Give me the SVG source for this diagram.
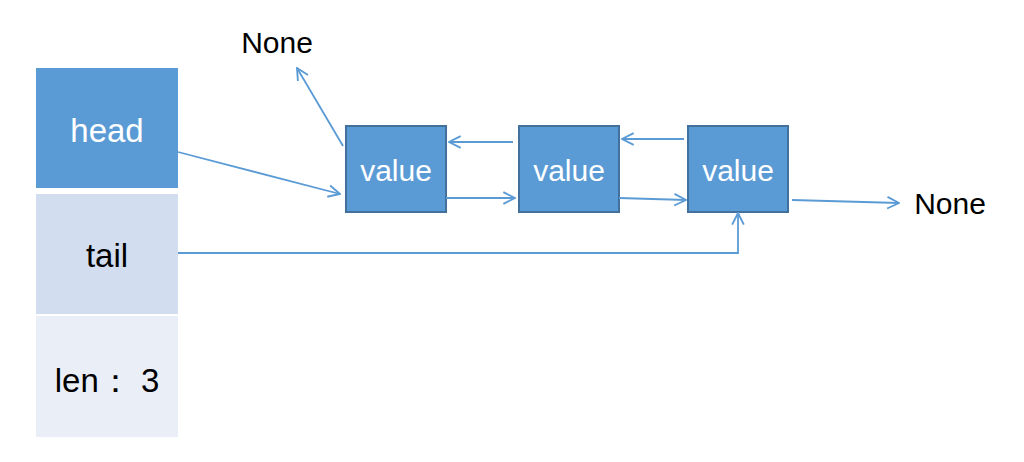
<svg xmlns="http://www.w3.org/2000/svg" width="1024" height="462" viewBox="0 0 1024 462">
<defs>
<style>
.lbl{font-family:"Liberation Sans",Arial,sans-serif;text-anchor:middle}
.w{fill:#ffffff}
.k{fill:#000000}
.box{fill:#5B9BD5;stroke:#41719C;stroke-width:2}
.con{fill:none;stroke:#5B9BD5;stroke-width:1.8}
</style>
<marker id="arr" viewBox="0 0 12 12" refX="11" refY="6" markerWidth="14" markerHeight="14" markerUnits="userSpaceOnUse" orient="auto">
<path d="M1,1 L11,6 L1,11" fill="none" stroke="#5B9BD5" stroke-width="1.6"/>
</marker>
</defs>
<rect width="1024" height="462" fill="#ffffff"/>
<g id="head">
<rect x="36" y="68" width="142" height="120" fill="#5B9BD5"/>
<text class="lbl w" x="107" y="142" font-size="33">head</text>
</g>
<g id="tail">
<rect x="36" y="194" width="142" height="120" fill="#D2DEEF"/>
<text class="lbl k" x="107" y="267" font-size="33">tail</text>
</g>
<g id="len">
<rect x="36" y="316" width="142" height="121" fill="#EAEFF7"/>
<text class="lbl k" x="107" y="392" font-size="33">len： 3</text>
</g>
<g id="node1">
<rect class="box" x="346" y="126" width="100" height="86"/>
<text class="lbl w" x="396" y="181" font-size="30">value</text>
</g>
<g id="node2">
<rect class="box" x="519" y="126" width="100" height="86"/>
<text class="lbl w" x="569" y="181" font-size="30">value</text>
</g>
<g id="node3">
<rect class="box" x="688" y="126" width="100" height="86"/>
<text class="lbl w" x="738" y="181" font-size="30">value</text>
</g>
<g id="none1">
<text class="lbl k" x="277" y="53" font-size="30">None</text>
</g>
<g id="none2">
<text class="lbl k" x="950" y="214" font-size="30">None</text>
</g>
<g id="connectors">
<path class="con" d="M178,152 L340,194" marker-end="url(#arr)"/>
<path class="con" d="M343,146 L297,68" marker-end="url(#arr)"/>
<path class="con" d="M513,142 L449,142" marker-end="url(#arr)"/>
<path class="con" d="M446,198 L515,198" marker-end="url(#arr)"/>
<path class="con" d="M684,139 L622,139" marker-end="url(#arr)"/>
<path class="con" d="M619,198 L686,200" marker-end="url(#arr)"/>
<path class="con" d="M792,200 L899,203" marker-end="url(#arr)"/>
<path class="con" d="M178,253 L738,253 L738,213" marker-end="url(#arr)"/>
</g>
</svg>
